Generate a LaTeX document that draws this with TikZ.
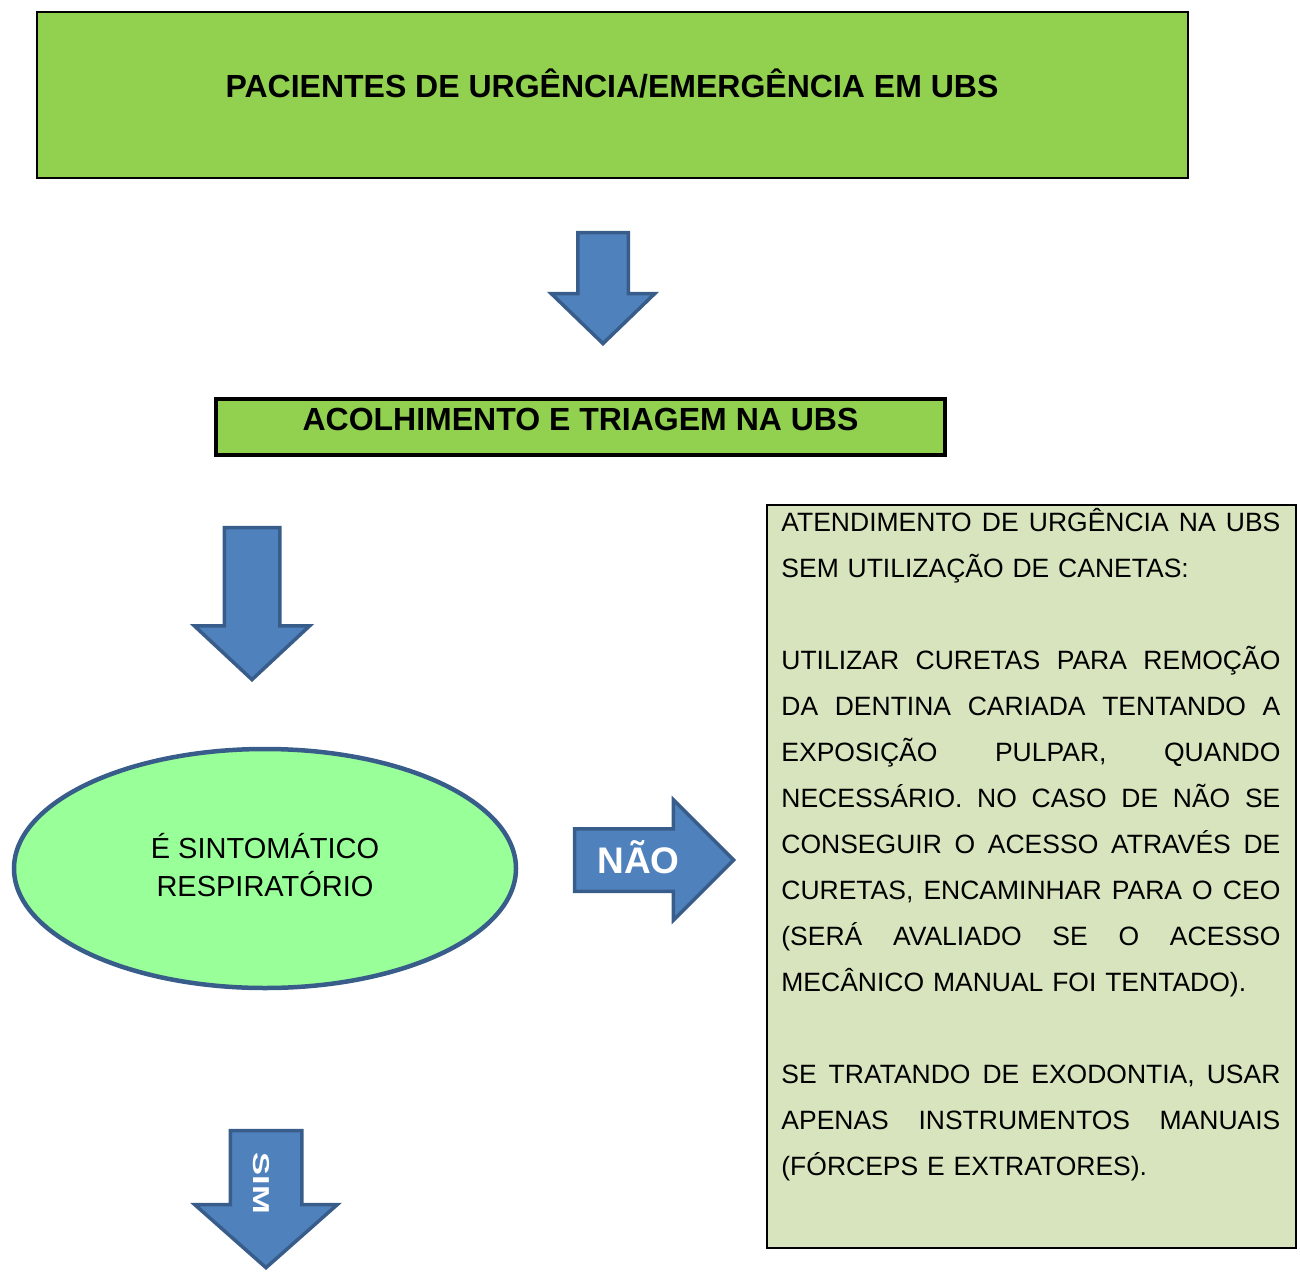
\documentclass[tikz,border=0pt]{standalone}
\usepackage{fontspec}
\setmainfont{Liberation Sans}
\usepackage{graphicx}
\usetikzlibrary{positioning,shapes.geometric,shapes.arrows}
\definecolor{VerdeCab}{HTML}{92D050}
\definecolor{VerdeElipse}{HTML}{99FF99}
\definecolor{VerdeTexto}{HTML}{D7E4BD}
\definecolor{AzulSeta}{HTML}{4F81BD}
\definecolor{AzulBorda}{HTML}{385D8A}
\newcommand{\just}[1]{{\spaceskip=0.278em plus 1fil\makebox[249.5pt][s]{#1}}}% linha justificada
\tikzset{
  cabecalho/.style = {draw, fill=VerdeCab, inner sep=0pt},
  titulo/.style    = {font=\fontsize{16}{19}\selectfont\bfseries, inner sep=0pt,
                      text height=11.5pt, text depth=0pt},
  pergunta/.style  = {ellipse, draw=AzulBorda, fill=VerdeElipse, line width=2.25pt,
                      align=center, inner sep=0pt,
                      font=\fontsize{14.5}{19}\selectfont},
  seta/.style      = {single arrow, draw=AzulBorda, fill=AzulSeta, line width=1.75pt,
                      anchor=tip, text=white},
  caixatexto/.style = {draw, fill=VerdeTexto, line width=1pt, inner sep=0pt},
  corpo/.style     = {font=\fontsize{13.25}{23}\selectfont, text width=249.5pt,
                      align=left, inner sep=0pt},
}
\begin{document}
\begin{tikzpicture}[x=0.5pt, y=-0.5pt]
  \useasboundingbox (0,0) rectangle (1300,1272);
  % caixas de cima
  \node[cabecalho, line width=1pt, minimum width=575.5pt, minimum height=83pt,
        label={[titulo, name=pactxt, yshift=4.5pt]center:PACIENTES DE URGÊNCIA/EMERGÊNCIA EM UBS}]
        (pac) at (612,95.5) {};
  \node[seta, shape border rotate=270, inner sep=11.75pt, single arrow head extend=13.25pt,
        single arrow tip angle=92, minimum height=55.5pt] (seta1) at (603,346) {};
  \node[cabecalho, line width=2pt, minimum width=364.5pt, minimum height=28pt,
        label={[titulo, name=acoltxt, yshift=4pt]center:ACOLHIMENTO E TRIAGEM NA UBS}]
        (acol) at (580.5,427) {};
  \node[seta, shape border rotate=270, inner sep=13pt, single arrow head extend=15pt,
        single arrow tip angle=94, minimum height=76pt] (seta2) at (252,682) {};
  % decisao
  \node[pergunta, text depth=4pt, minimum width=251pt, minimum height=119.5pt]
        (sint) at (265,868.5) {É SINTOMÁTICO\\RESPIRATÓRIO};
  \node[seta, font=\fontsize{18.5}{21}\selectfont\bfseries, text height=13pt, text depth=0pt,
        inner ysep=8.25pt, inner xsep=6pt, single arrow head extend=14.5pt,
        single arrow tip angle=90, minimum height=79.5pt] (nao) at (736,860) {NÃO};
  \node[seta, rotate=-90, font=\fontsize{11.5}{14}\selectfont\bfseries, text height=13pt,
        text depth=0pt, inner ysep=10.5pt, inner xsep=6pt, single arrow head extend=17.75pt,
        single arrow tip angle=97, minimum height=68.5pt] (sim) at (266,1270)
        {\scalebox{1.5}[1]{SIM}};
  % atendimento sem canetas
  \node[caixatexto, minimum width=264.5pt, minimum height=371pt] (atend) at (1031,876.5) {};
  \node[corpo, anchor=base west] (atendtxt) at (781,531) {%
    \just{ATENDIMENTO DE URGÊNCIA NA UBS}\\
    SEM UTILIZAÇÃO DE CANETAS:\\[23pt]
    \just{UTILIZAR CURETAS PARA REMOÇÃO}\\
    \just{DA DENTINA CARIADA TENTANDO A}\\
    \just{EXPOSIÇÃO PULPAR, QUANDO}\\
    \just{NECESSÁRIO. NO CASO DE NÃO SE}\\
    \just{CONSEGUIR O ACESSO ATRAVÉS DE}\\
    \just{CURETAS, ENCAMINHAR PARA O CEO}\\
    \just{(SERÁ AVALIADO SE O ACESSO}\\
    MECÂNICO MANUAL FOI TENTADO).\\[23pt]
    \just{SE TRATANDO DE EXODONTIA, USAR}\\
    \just{APENAS INSTRUMENTOS MANUAIS}\\
    (FÓRCEPS E EXTRATORES).};
\end{tikzpicture}
\end{document}
